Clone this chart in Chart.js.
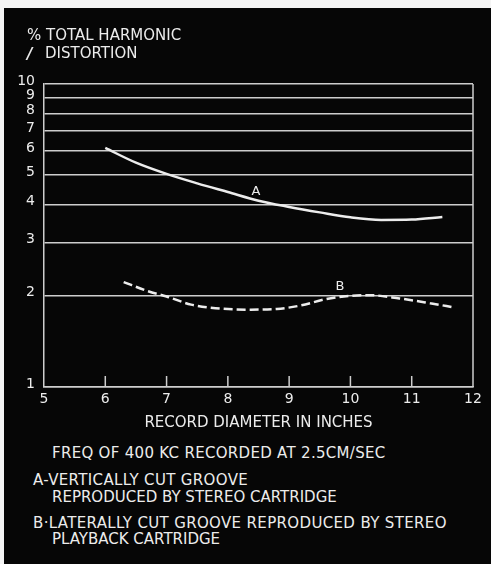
<!DOCTYPE html>
<html>
<head>
<meta charset="utf-8">
<script src="https://cdn.jsdelivr.net/npm/chart.js@4/dist/chart.umd.min.js"></script>
<style>
  html, body { margin: 0; padding: 0; background: #f4f4f4; width: 491px; height: 564px; overflow: hidden; }
  #panel { position: absolute; left: 4px; top: 8px; width: 487px; height: 556px; background: #060606; }
  #chart { position: absolute; left: 0; top: 0; }
  .txt { position: absolute; color: #ececec; font-family: "DejaVu Sans", sans-serif; font-size: 15px; line-height: 15px; white-space: nowrap; }
</style>
</head>
<body>
<div id="panel">
  <canvas id="chart" width="487" height="432"></canvas>
</div>
<div class="txt" style="left:27px; top:28px;">% TOTAL HARMONIC</div>
<div class="txt" style="left:27px; top:47px; font-style:italic; font-weight:bold;">/</div>
<div class="txt" style="left:45px; top:46px;">DISTORTION</div>
<div class="txt" style="left:52px; top:446px; letter-spacing:0.3px;">FREQ OF 400 KC RECORDED AT 2.5CM/SEC</div>
<div class="txt" style="left:33px; top:473px; letter-spacing:0.35px;">A-VERTICALLY CUT GROOVE</div>
<div class="txt" style="left:52px; top:490px;">REPRODUCED BY STEREO CARTRIDGE</div>
<div class="txt" style="left:33px; top:516px; letter-spacing:0.35px;">B·LATERALLY CUT GROOVE REPRODUCED BY STEREO</div>
<div class="txt" style="left:52px; top:532px;">PLAYBACK CARTRIDGE</div>
<script>
// Record diameter (inches) and % total harmonic distortion for each curve
const diameterA = [6.0, 6.5, 7.0, 7.5, 8.0, 8.5, 9.0, 9.5, 10.0, 10.5, 11.0, 11.5];
const distortionA = [6.15, 5.5, 5.05, 4.7, 4.4, 4.12, 3.93, 3.77, 3.63, 3.56, 3.57, 3.64];

const diameterB = [6.3, 6.7, 7.0, 7.4, 7.8, 8.3, 8.8, 9.2, 9.6, 10.0, 10.3, 10.8, 11.3, 11.7];
const distortionB = [2.22, 2.07, 1.99, 1.87, 1.82, 1.80, 1.81, 1.86, 1.95, 2.0, 2.01, 1.96, 1.89, 1.83];

// Axis ranges and tick labels
const xTicks = [5, 6, 7, 8, 9, 10, 11, 12];
const yTicks = [1, 2, 3, 4, 5, 6, 7, 8, 9, 10];

// Curve letters, placed in data units next to each curve
const curveNames = ['A', 'B'];
const curveNameX = [8.46, 9.83];
const curveNameY = [4.42, 2.14];

const INK = '#ececec';
const GRID = '#cdcdcd';
const FONT = '"DejaVu Sans", sans-serif';

const toPoints = (xs, ys) => xs.map((x, i) => ({ x, y: ys[i] }));

// Frame edge, inward tick marks and curve letters
const extras = {
  id: 'extras',
  afterDatasetsDraw(chart) {
    const { ctx, chartArea: a, scales: { x, y } } = chart;
    ctx.save();
    ctx.strokeStyle = GRID;
    ctx.lineWidth = 1.5;
    ctx.beginPath();
    ctx.moveTo(a.right, a.top);
    ctx.lineTo(a.right, a.bottom);
    xTicks.slice(1, -1).forEach(v => {
      const px = x.getPixelForValue(v);
      ctx.moveTo(px, a.bottom);
      ctx.lineTo(px, a.bottom - 11);
    });
    ctx.stroke();
    ctx.fillStyle = INK;
    ctx.font = '13px ' + FONT;
    ctx.textAlign = 'center';
    ctx.textBaseline = 'middle';
    curveNames.forEach((n, i) => {
      ctx.fillText(n, x.getPixelForValue(curveNameX[i]), y.getPixelForValue(curveNameY[i]));
    });
    ctx.restore();
  }
};

new Chart(document.getElementById('chart'), {
  type: 'line',
  data: {
    datasets: [
      {
        label: 'A',
        data: toPoints(diameterA, distortionA),
        borderColor: INK,
        borderWidth: 2.5,
        pointRadius: 0,
        cubicInterpolationMode: 'monotone',
        fill: false
      },
      {
        label: 'B',
        data: toPoints(diameterB, distortionB),
        borderColor: INK,
        borderWidth: 2.5,
        borderDash: [9, 4],
        pointRadius: 0,
        cubicInterpolationMode: 'monotone',
        fill: false
      }
    ]
  },
  options: {
    responsive: false,
    animation: false,
    devicePixelRatio: 1,
    layout: { padding: { top: 76, right: 18, left: 0, bottom: 0 } },
    plugins: { legend: { display: false }, tooltip: { enabled: false } },
    scales: {
      x: {
        type: 'linear',
        min: xTicks[0],
        max: xTicks[xTicks.length - 1],
        afterBuildTicks: s => { s.ticks = xTicks.map(v => ({ value: v })); },
        afterFit: s => { s.height = 53; },
        grid: { display: false, drawTicks: false },
        border: { display: true, color: GRID, width: 1.5 },
        ticks: { color: INK, font: { family: FONT, size: 14 }, padding: 4, maxRotation: 0 },
        title: {
          display: true,
          text: 'RECORD DIAMETER IN INCHES',
          color: INK,
          font: { family: FONT, size: 15 },
          padding: { top: 0, bottom: 8 }
        }
      },
      y: {
        type: 'logarithmic',
        min: yTicks[0],
        max: yTicks[yTicks.length - 1],
        afterBuildTicks: s => { s.ticks = yTicks.map(v => ({ value: v })); },
        afterFit: s => { s.width = 40; },
        grid: { color: GRID, lineWidth: 1.5, drawTicks: false },
        border: { display: true, color: GRID, width: 1.5 },
        ticks: {
          color: INK,
          font: { family: FONT, size: 14 },
          padding: 9,
          labelOffset: -3,
          callback: v => String(v)
        }
      }
    }
  },
  plugins: [extras]
});
</script>
</body>
</html>
